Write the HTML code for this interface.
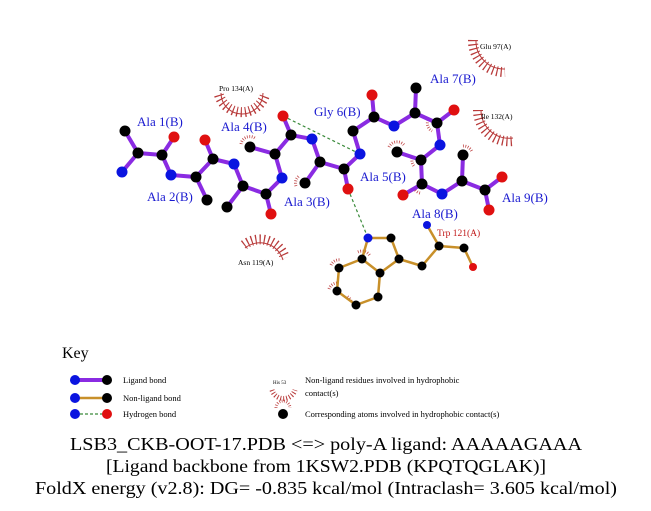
<!DOCTYPE html>
<html><head><meta charset="utf-8"><style>html,body{margin:0;padding:0;background:#fff}svg{display:block}</style></head><body>
<svg width="651" height="511" viewBox="0 0 651 511" xmlns="http://www.w3.org/2000/svg" font-family="Liberation Serif, serif">
<rect width="651" height="511" fill="#fff"/>
<!-- hydrophobic arcs -->
<g fill="none" stroke="#b83a3a">
<path d="M219,95 A24 24 0 0 0 265 95" stroke-width="10" stroke-dasharray="1.2 3"/>
<path d="M221,93 A21 21 0 0 0 263 93" stroke-width="1"/>
<path d="M473,40 A31 31 0 0 0 505,72" stroke-width="10" stroke-dasharray="1.2 3"/>
<path d="M476,40 A28 28 0 0 0 505,69" stroke-width="1"/>
<path d="M478,110 A31 31 0 0 0 513,141" stroke-width="10" stroke-dasharray="1.2 3"/>
<path d="M481,110 A28 28 0 0 0 513,138" stroke-width="1"/>
<path d="M244,245 A26 26 0 0 1 285 258" stroke-width="10" stroke-dasharray="1.2 3"/>
<path d="M245,248 A24 24 0 0 1 283 260" stroke-width="1"/>
</g>
<!-- small atom spikes -->
<g fill="none" stroke="#c04848" stroke-width="3" stroke-dasharray="0.8 1.6">
<path d="M241,144 A9 9 0 0 1 256 139"/>
<path d="M296,186 A9 9 0 0 1 299 176"/>
<path d="M389,147 A9 9 0 0 1 404 145"/>
<path d="M429,118 A9 9 0 0 0 432 131"/>
<path d="M413,156 A9 9 0 0 0 414 166"/>
<path d="M414,188 A9 9 0 0 0 420 193"/>
<path d="M463,146 A9 9 0 0 1 472 152"/>
<path d="M358,252 A9 9 0 0 1 370 256"/>
<path d="M331,265 A9 9 0 0 1 341 260"/>
<path d="M329,289 A9 9 0 0 1 338 283"/>
<path d="M351,301 A9 9 0 0 0 346 296"/>
</g>
<!-- ligand bonds -->
<g stroke="#8a2be2" stroke-width="4" stroke-linecap="round" fill="none">
<polyline points="122,172 138,153 162,155 171,175 196,177 213,159 234,164 243,186 266,194 282,178 275,154 291,135 312,139 320,162 344,169 360,154 353,131 374,117 394,126 415,113 437,123 440,145 421,160 422,184 442,194 462,181 485,190"/>
<line x1="138" y1="153" x2="125" y2="131"/><line x1="162" y1="155" x2="174" y2="137"/>
<line x1="196" y1="177" x2="207" y2="200"/><line x1="213" y1="159" x2="205" y2="140"/>
<line x1="243" y1="186" x2="227" y2="207"/><line x1="266" y1="194" x2="271" y2="214"/>
<line x1="275" y1="154" x2="250" y2="147"/><line x1="291" y1="135" x2="283" y2="116"/>
<line x1="320" y1="162" x2="305" y2="183"/><line x1="344" y1="169" x2="348" y2="189"/>
<line x1="374" y1="117" x2="372" y2="95"/><line x1="415" y1="113" x2="416" y2="88"/>
<line x1="437" y1="123" x2="454" y2="110"/><line x1="421" y1="160" x2="397" y2="152"/>
<line x1="422" y1="184" x2="403" y2="195"/><line x1="462" y1="181" x2="463" y2="155"/>
<line x1="485" y1="190" x2="502" y2="177"/><line x1="485" y1="190" x2="489" y2="210"/>
</g>
<!-- non-ligand bonds -->
<g stroke="#c8902a" stroke-width="2.5" fill="none" stroke-linejoin="round">
<polyline points="427,225 439,246 464,248 473,267"/>
<polyline points="439,246 422,266 399,259 391,238 368,238 362,259 380,273 399,259"/>
<polyline points="362,259 339,268 337,291 356,305 378,297 380,273"/>
</g>
<!-- H bonds -->
<g stroke="#3a8a3a" stroke-width="1.2" stroke-dasharray="3 2.5">
<line x1="283" y1="116" x2="360" y2="154"/><line x1="348" y1="189" x2="368" y2="238"/>
</g>
<!-- atoms -->
<g stroke="none">
<g fill="#000">
<circle cx="125" cy="131" r="5.5"/><circle cx="138" cy="153" r="5.5"/><circle cx="162" cy="155" r="5.5"/>
<circle cx="196" cy="177" r="5.5"/><circle cx="207" cy="200" r="5.5"/><circle cx="213" cy="159" r="5.5"/>
<circle cx="243" cy="186" r="5.5"/><circle cx="227" cy="207" r="5.5"/><circle cx="266" cy="194" r="5.5"/>
<circle cx="275" cy="154" r="5.5"/><circle cx="250" cy="147" r="5.5"/><circle cx="291" cy="135" r="5.5"/>
<circle cx="320" cy="162" r="5.5"/><circle cx="305" cy="183" r="5.5"/><circle cx="344" cy="169" r="5.5"/>
<circle cx="353" cy="131" r="5.5"/><circle cx="374" cy="117" r="5.5"/><circle cx="415" cy="113" r="5.5"/>
<circle cx="416" cy="88" r="5.5"/><circle cx="437" cy="123" r="5.5"/><circle cx="421" cy="160" r="5.5"/>
<circle cx="397" cy="152" r="5.5"/><circle cx="422" cy="184" r="5.5"/><circle cx="462" cy="181" r="5.5"/>
<circle cx="463" cy="155" r="5.5"/><circle cx="485" cy="190" r="5.5"/>
<circle cx="391" cy="238" r="4.5"/><circle cx="399" cy="259" r="4.5"/><circle cx="380" cy="273" r="4.5"/>
<circle cx="362" cy="259" r="4.5"/><circle cx="339" cy="268" r="4.5"/><circle cx="337" cy="291" r="4.5"/>
<circle cx="356" cy="305" r="4.5"/><circle cx="378" cy="297" r="4.5"/><circle cx="422" cy="266" r="4.5"/>
<circle cx="439" cy="246" r="4.5"/><circle cx="464" cy="248" r="4.5"/>
</g>
<g fill="#0a14e0">
<circle cx="122" cy="172" r="5.5"/><circle cx="171" cy="175" r="5.5"/><circle cx="234" cy="164" r="5.5"/>
<circle cx="282" cy="178" r="5.5"/><circle cx="312" cy="139" r="5.5"/><circle cx="360" cy="154" r="5.5"/>
<circle cx="394" cy="126" r="5.5"/><circle cx="440" cy="145" r="5.5"/><circle cx="442" cy="194" r="5.5"/>
<circle cx="368" cy="238" r="4.5"/><circle cx="427" cy="225" r="4"/>
</g>
<g fill="#e01010">
<circle cx="174" cy="137" r="5.5"/><circle cx="205" cy="140" r="5.5"/><circle cx="271" cy="214" r="5.5"/>
<circle cx="283" cy="116" r="5.5"/><circle cx="348" cy="189" r="5.5"/><circle cx="372" cy="95" r="5.5"/>
<circle cx="454" cy="110" r="5.5"/><circle cx="403" cy="195" r="5.5"/><circle cx="502" cy="177" r="5.5"/>
<circle cx="489" cy="210" r="5.5"/><circle cx="473" cy="267" r="4"/>
</g>
</g>
<!-- labels -->
<g fill="#1a1ad0" font-size="13">
<text x="137" y="126">Ala 1(B)</text><text x="147" y="201">Ala 2(B)</text>
<text x="221" y="131">Ala 4(B)</text><text x="284" y="206">Ala 3(B)</text>
<text x="314" y="116">Gly 6(B)</text><text x="360" y="181">Ala 5(B)</text>
<text x="430" y="83">Ala 7(B)</text><text x="412" y="218">Ala 8(B)</text>
<text x="502" y="202">Ala 9(B)</text>
</g>
<text x="437" y="236" fill="#c01818" font-size="9.5">Trp 121(A)</text>
<g fill="#000" font-size="7.5">
<text x="219" y="91">Pro 134(A)</text><text x="480" y="49">Glu 97(A)</text>
<text x="481" y="119">Ile 132(A)</text><text x="238" y="265">Asn 119(A)</text>
</g>
<!-- key -->
<text x="62" y="358" font-size="16" fill="#000">Key</text>
<line x1="75" y1="380" x2="107" y2="380" stroke="#8a2be2" stroke-width="4"/>
<circle cx="75" cy="380" r="5" fill="#0a14e0"/><circle cx="107" cy="380" r="5" fill="#000"/>
<line x1="75" y1="398" x2="107" y2="398" stroke="#c8902a" stroke-width="2.5"/>
<circle cx="75" cy="398" r="5" fill="#0a14e0"/><circle cx="107" cy="398" r="5" fill="#000"/>
<line x1="75" y1="414" x2="107" y2="414" stroke="#3a8a3a" stroke-width="1.2" stroke-dasharray="3 2"/>
<circle cx="75" cy="414" r="5" fill="#0a14e0"/><circle cx="107" cy="414" r="5" fill="#e01010"/>
<g font-size="8.5" fill="#000">
<text x="123" y="383">Ligand bond</text><text x="123" y="401">Non-ligand bond</text><text x="123" y="417">Hydrogen bond</text>
<text x="305" y="383">Non-ligand residues involved in hydrophobic</text>
<text x="305" y="396">contact(s)</text>
<text x="305" y="417">Corresponding atoms involved in hydrophobic contact(s)</text>
</g>
<text x="273" y="384" font-size="5" fill="#000">His 53</text>
<path d="M272,390 A12 12 0 0 0 295 390" fill="none" stroke="#b83a3a" stroke-width="5" stroke-dasharray="1 2"/>
<path d="M276,408 A7 7 0 0 1 290 408" fill="none" stroke="#c04848" stroke-width="3" stroke-dasharray="0.8 1.6"/>
<circle cx="283" cy="414" r="5" fill="#000"/>
<!-- title -->
<g font-size="18" fill="#000" text-anchor="middle">
<text x="326" y="450" textLength="512" lengthAdjust="spacingAndGlyphs">LSB3_CKB-OOT-17.PDB &lt;=&gt; poly-A ligand: AAAAAGAAA</text>
<text x="326" y="472" textLength="440" lengthAdjust="spacingAndGlyphs">[Ligand backbone from 1KSW2.PDB (KPQTQGLAK)]</text>
<text x="326" y="494" textLength="582" lengthAdjust="spacingAndGlyphs">FoldX energy (v2.8): DG= -0.835 kcal/mol (Intraclash= 3.605 kcal/mol)</text>
</g>
</svg>
</body></html>
